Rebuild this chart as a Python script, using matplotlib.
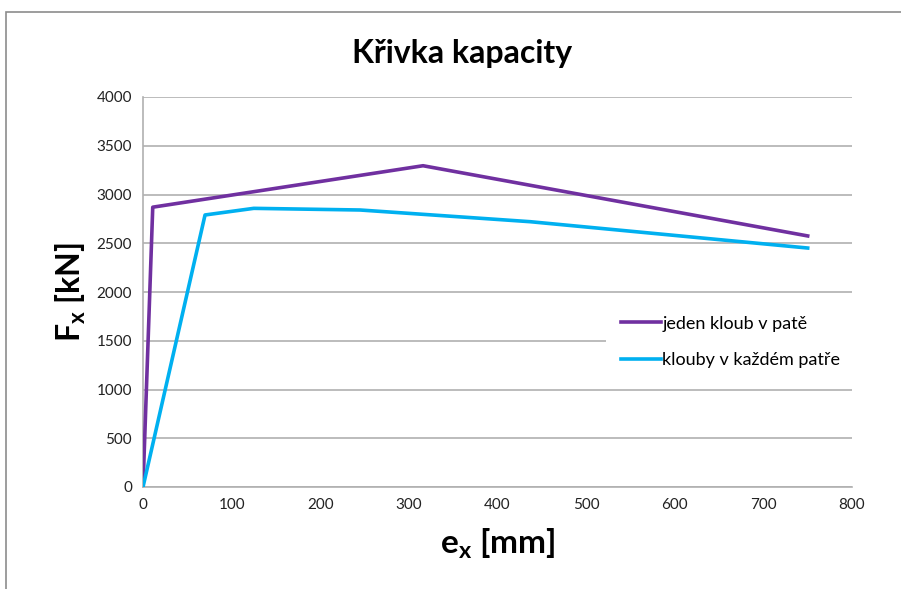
import matplotlib
matplotlib.use('Agg')
import matplotlib.pyplot as plt
from matplotlib.patches import Rectangle

plt.rcParams['font.family'] = ['Lato', 'DejaVu Sans']

# jeden kloub v pate
x_jeden = [0, 11, 316, 750]
y_jeden = [0, 2870, 3295, 2575]

# klouby v kazdem patre
x_klouby = [0, 70, 125, 245, 437, 750]
y_klouby = [0, 2790, 2858, 2841, 2721, 2451]

labels = ['jeden kloub v patě', 'klouby v každém patře']
x_ticks = [0, 100, 200, 300, 400, 500, 600, 700, 800]
y_ticks = [0, 500, 1000, 1500, 2000, 2500, 3000, 3500, 4000]

fig = plt.figure(figsize=(9.01, 5.89), dpi=100, facecolor='w')
fig.patches.append(Rectangle((6/901, -0.1), 1.2, 1 - 12/589 + 0.1, transform=fig.transFigure,
                             fill=False, edgecolor='#8c8c8c', linewidth=1.2))

ax = fig.add_axes([143/901, 1 - 487/589, 709/901, 390/589])
ax.plot(x_jeden, y_jeden, color='#7030a0', linewidth=2.6, label=labels[0], zorder=3)
ax.plot(x_klouby, y_klouby, color='#00b0f0', linewidth=2.6, label=labels[1], zorder=3)

ax.set_xlim(0, 800)
ax.set_ylim(0, 4000)
ax.set_xticks(x_ticks)
ax.set_yticks(y_ticks)
ax.tick_params(length=0, labelsize=11, colors='#222222', pad=8)
ax.yaxis.grid(True, color='#b0b0b0', linewidth=1.2)
ax.set_axisbelow(True)
for s in ['top', 'right']:
    ax.spines[s].set_visible(False)
for s in ['left', 'bottom']:
    ax.spines[s].set_color('#b0b0b0')
    ax.spines[s].set_linewidth(1.2)

fig.text(462/901, 1 - 53/589, 'Křivka kapacity', ha='center', va='center',
         fontsize=23, fontweight='bold')
ax.set_xlabel(r'e$_\mathregular{x}$ [mm]', fontsize=24, fontweight='bold', labelpad=10)
ax.set_ylabel(r'F$_\mathregular{x}$ [kN]', fontsize=23, fontweight='bold', labelpad=6)

leg = ax.legend(loc='center left', bbox_to_anchor=(0.641, 0.372), frameon=True,
                fontsize=13, handlelength=2.2, handletextpad=0.1, labelspacing=1.15,
                borderpad=0.8)
leg.get_frame().set_edgecolor('none')
leg.get_frame().set_facecolor('white')
leg.get_frame().set_alpha(1)

plt.savefig('out.png', dpi=100)
